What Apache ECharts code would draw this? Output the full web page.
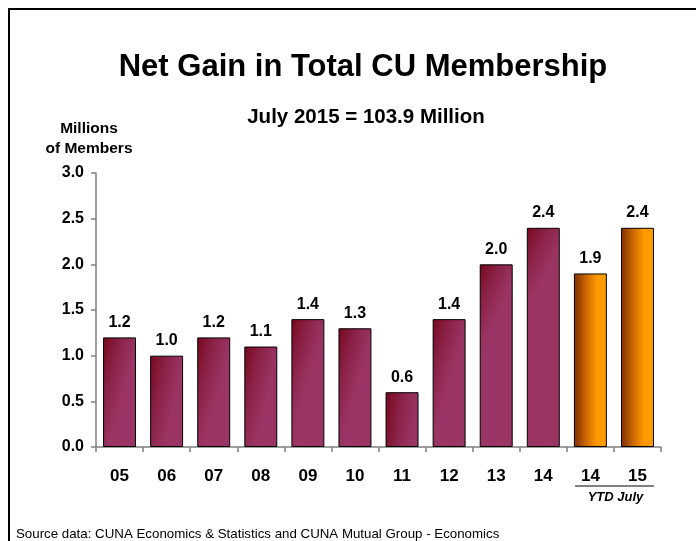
<!DOCTYPE html>
<html>
<head>
<meta charset="utf-8">
<script src="https://cdn.jsdelivr.net/npm/echarts@6/dist/echarts.min.js"></script>
<style>
  html, body { margin: 0; padding: 0; background: #fff; }
  #chart { width: 696px; height: 541px; }
</style>
</head>
<body>
<div id="chart"></div>
<script>
// Net gain in credit union membership, millions of members
const annualYears = ['05', '06', '07', '08', '09', '10', '11', '12', '13', '14'];
const annualGain = [1.2, 1.0, 1.2, 1.1, 1.4, 1.3, 0.6, 1.4, 2.0, 2.4];
const ytdYears = ['14', '15'];
const ytdGain = [1.9, 2.4];
const yTicks = { min: 0, max: 3, step: 0.5 };

const FONT = 'Liberation Sans, Arial, sans-serif';

// Each bar gets its own gradient object so the fill is sized to that bar
function maroonFill() {
  return {
    type: 'linear', x: 0, y: 0, x2: 1, y2: 0.08,
    colorStops: [
      { offset: 0, color: '#78071b' },
      { offset: 0.5, color: '#8a2248' },
      { offset: 1, color: '#9a3464' }
    ]
  };
}
function orangeFill() {
  return {
    type: 'linear', x: 0, y: 0, x2: 1, y2: 0,
    colorStops: [
      { offset: 0, color: '#7e2e00' },
      { offset: 0.4, color: '#d06c00' },
      { offset: 0.7, color: '#ff9900' },
      { offset: 1, color: '#ff9c00' }
    ]
  };
}

const categories = annualYears.concat(ytdYears);
const barData = annualGain.map(v => ({ value: v, itemStyle: { color: maroonFill() } }))
  .concat(ytdGain.map(v => ({ value: v, itemStyle: { color: orangeFill() } })));

const chart = echarts.init(document.getElementById('chart'), null, { renderer: 'canvas' });

chart.setOption({
  backgroundColor: '#fff',
  animation: false,
  textStyle: { fontFamily: FONT },
  title: [
    {
      text: 'Net Gain in Total CU Membership',
      left: 358, top: 47, textAlign: 'center',
      textStyle: { fontFamily: FONT, fontSize: 31, fontWeight: 'bold', color: '#000' }
    },
    {
      text: 'July 2015 = 103.9 Million',
      left: 361, top: 102, textAlign: 'center',
      textStyle: { fontFamily: FONT, fontSize: 20.5, fontWeight: 'bold', color: '#000' }
    },
    {
      text: 'Millions\nof Members',
      left: 84, top: 114, textAlign: 'center',
      textStyle: { fontFamily: FONT, fontSize: 15.5, fontWeight: 'bold', color: '#000', lineHeight: 20 }
    },
    {
      text: 'Source data: CUNA Economics & Statistics and CUNA Mutual Group - Economics',
      left: 11, top: 523,
      textStyle: { fontFamily: FONT, fontSize: 13.3, fontWeight: 'normal', color: '#000' }
    }
  ],
  grid: { left: 96, right: 35, top: 173, bottom: 94, containLabel: false },
  xAxis: {
    type: 'category',
    data: categories,
    axisLine: { lineStyle: { color: '#808080', width: 1.5 } },
    axisTick: { show: true, length: 5, lineStyle: { color: '#808080', width: 1.5 } },
    axisLabel: { margin: 21, fontFamily: FONT, fontSize: 17, fontWeight: 'bold', color: '#000' }
  },
  yAxis: {
    type: 'value',
    min: yTicks.min, max: yTicks.max, interval: yTicks.step,
    splitLine: { show: false },
    axisLine: { show: true, lineStyle: { color: '#808080', width: 1.5 } },
    axisTick: { show: true, length: 5, lineStyle: { color: '#808080', width: 1.5 } },
    axisLabel: {
      margin: 12, fontFamily: FONT, fontSize: 16, fontWeight: 'bold', color: '#000',
      formatter: v => v.toFixed(1)
    }
  },
  series: [{
    type: 'bar',
    data: barData,
    barWidth: '70%',
    itemStyle: { borderColor: '#000', borderWidth: 1 },
    label: {
      show: true, position: 'top', distance: 7,
      fontFamily: FONT, fontSize: 16, fontWeight: 'bold', color: '#000',
      formatter: p => p.value.toFixed(1)
    }
  }]
});

// Bracket under the year-to-date bars and the outer frame
const firstYtd = annualYears.length;
const lastYtd = categories.length - 1;
const halfBand = (chart.convertToPixel({ xAxisIndex: 0 }, 1) - chart.convertToPixel({ xAxisIndex: 0 }, 0)) / 2;
const xStart = chart.convertToPixel({ xAxisIndex: 0 }, firstYtd) - halfBand * 0.65;
const xEnd = chart.convertToPixel({ xAxisIndex: 0 }, lastYtd) + halfBand * 0.7;
const baseY = chart.convertToPixel({ yAxisIndex: 0 }, 0);

chart.setOption({
  graphic: [
    {
      type: 'rect', silent: true,
      shape: { x: 9, y: 9, width: 720, height: 560 },
      style: { fill: null, stroke: '#000', lineWidth: 2 }
    },
    {
      type: 'line', silent: true,
      shape: { x1: xStart, y1: baseY + 39, x2: xEnd, y2: baseY + 39 },
      style: { stroke: '#000', lineWidth: 1 }
    },
    {
      type: 'text', silent: true,
      x: (xStart + xEnd) / 2 + 1, y: baseY + 50,
      style: {
        text: 'YTD July', align: 'center', verticalAlign: 'middle',
        font: 'italic bold 13px ' + FONT, fill: '#000'
      }
    }
  ]
});
</script>
</body>
</html>
